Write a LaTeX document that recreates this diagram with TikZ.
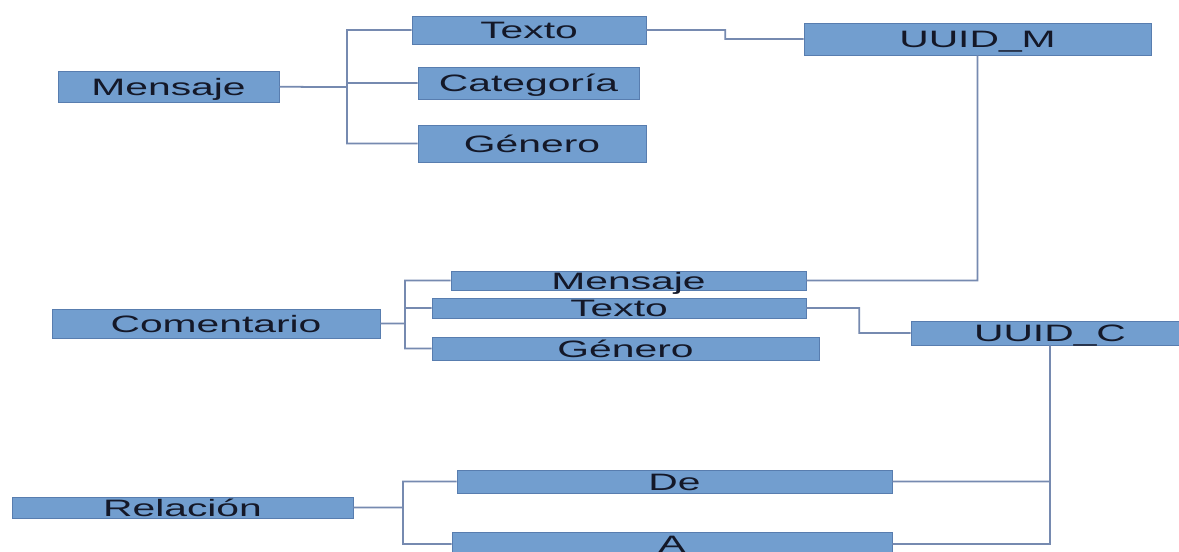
\documentclass[tikz,border=0pt]{standalone}
\usepackage{fontspec}
\setmainfont{Liberation Sans}
\usepackage{graphicx}
\usepackage{tikz}
\definecolor{azul}{RGB}{114,158,207}
\definecolor{borde}{RGB}{88,125,175}
\definecolor{linea}{RGB}{118,138,176}
\definecolor{tinta}{RGB}{20,24,40}
\newcommand{\ancho}[1]{\scalebox{1.72}[1]{#1}}
\tikzset{x=0.02cm, y=-0.02cm, campo/.style={draw=borde, fill=azul, inner sep=0pt, text=tinta, text height=9.7pt, text depth=0pt, font=\fontsize{13.5}{16}\selectfont}, tam/.style 2 args={minimum width=#1*0.02cm, minimum height=#2*0.02cm}, enlace/.style={draw=linea, line width=1pt}}

\begin{document}
\begin{tikzpicture}
				\clip (0,0) rectangle (1179,551);
				\fill[white] (0,0) rectangle (1179,551);

				\node[campo, tam={221}{31}] (msj) at (168.5,86.5) {\ancho{Mensaje}};
				\node[campo, tam={234}{28}] (txt) at (529,30) {\ancho{Texto}};
				\node[campo, tam={221}{32}] (cat) at (528.5,83) {\ancho{Categoría}};
				\node[campo, tam={228}{37}] (gen) at (532,143.5) {\ancho{Género}};
				\node[campo, tam={347}{32}] (uuidm) at (977.5,39) {\ancho{UUID\_M}};

				\node[campo, tam={328}{29}] (com) at (216,323.5) {\ancho{Comentario}};
				\node[campo, tam={355}{19}] (msj2) at (628.5,280.5) {\ancho{Mensaje}};
				\node[campo, tam={374}{20}] (txt2) at (619,308) {\ancho{Texto}};
				\node[campo, tam={387}{23}] (gen2) at (625.5,348.5) {\ancho{Género}};
				\node[campo, tam={278}{24}] (uuidc) at (1050,333) {\ancho{UUID\_C}};

				\node[campo, tam={341}{21}] (rel) at (182.5,507.5) {\ancho{Relación}};
				\node[campo, tam={435}{23}] (de) at (674.5,481.5) {\ancho{De}};
				\node[campo, tam={440}{24}] (a) at (672,544) {\ancho{A}};

				\coordinate (bm) at (347,87);
				\coordinate (bc) at (405,323.5);
				\coordinate (br) at (403,507.5);

				\path[enlace]
					(msj) -- (bm) |- (txt)
					(bm) |- (cat)
					(bm) |- (gen)
					(txt.east) -- ++(79,0) |- (uuidm)
					(uuidm.south) |- (msj2.east)
					(com) -- (bc) |- (msj2)
					(bc) |- (txt2)
					(bc) |- (gen2)
					(txt2.east) -- ++(53,0) |- (uuidc)
					(uuidc.south) |- (de.east)
					(uuidc.south) |- (a.east)
					(rel) -- (br) |- (de)
					(br) |- (a);
			\end{tikzpicture}
\end{document}
